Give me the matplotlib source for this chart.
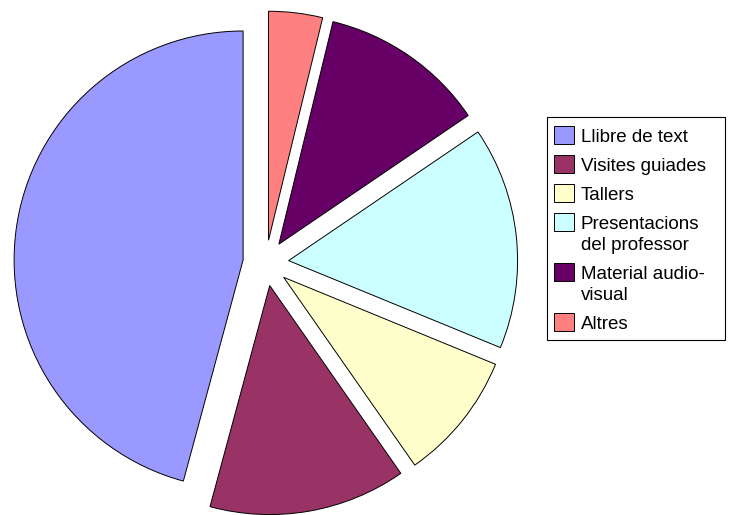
import matplotlib
matplotlib.use("Agg")
import matplotlib.pyplot as plt
from matplotlib.patches import Rectangle

# Share of each resource (percent)
categories = ["Llibre de text", "Visites guiades", "Tallers",
              "Presentacions\ndel professor", "Material audio-\nvisual", "Altres"]
values = [45.8, 13.9, 9.1, 15.7, 11.7, 3.8]
colors = ["#9999FF", "#993366", "#FFFFCC", "#CCFFFF", "#660066", "#FF8080"]

W, H = 732, 515
fig = plt.figure(figsize=(W / 100, H / 100), dpi=100)
fig.patch.set_facecolor("white")

# Pie axes spanning the whole figure; one data unit equals the pie radius
cx, cy, R = 265.8, 263.0, 229.0
ax = fig.add_axes([0, 0, 1, 1])
ax.pie(values, explode=[0.1] * len(values), startangle=90, counterclock=True,
       colors=colors, radius=1.0,
       wedgeprops=dict(edgecolor="black", linewidth=0.7))
ax.set_xlim(-cx / R, (W - cx) / R)
ax.set_ylim(-(H - cy) / R, cy / R)
ax.set_aspect("equal", adjustable="box")
ax.axis("off")

# Legend drawn in pixel coordinates
lg = fig.add_axes([0, 0, 1, 1], facecolor="none")
lg.set_xlim(0, W)
lg.set_ylim(H, 0)
lg.axis("off")

lg.add_patch(Rectangle((547, 117), 178, 223, facecolor="white",
                       edgecolor="black", linewidth=0.8))
font = dict(family=["Liberation Sans", "DejaVu Sans"], size=13.5, color="black")
top = 126.0
for label, col in zip(categories, colors):
    lg.add_patch(Rectangle((554, top), 20, 18, facecolor=col,
                           edgecolor="black", linewidth=0.7))
    lines = label.split("\n")
    for k, line in enumerate(lines):
        lg.text(581, top + 16 + 21 * k, line, va="baseline", ha="left", **font)
    top += 29 + 21 * (len(lines) - 1)

fig.savefig("out.png", dpi=100, facecolor="white")
